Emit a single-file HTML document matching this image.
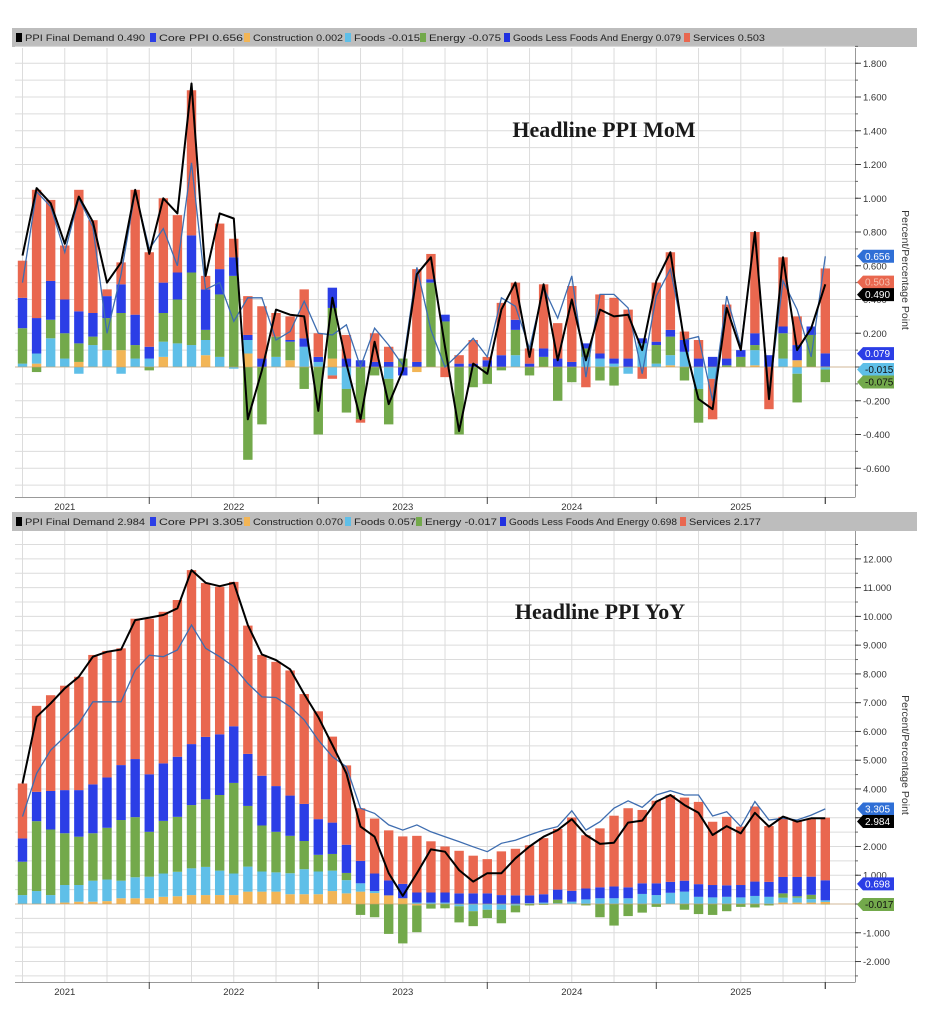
<!DOCTYPE html>
<html><head><meta charset="utf-8">
<style>
html,body{margin:0;padding:0;background:#fff;}
svg{display:block;font-family:"Liberation Sans",sans-serif;}
</style></head>
<body>
<svg id="c" width="934" height="1030" viewBox="0 0 934 1030" xmlns="http://www.w3.org/2000/svg"></svg>
<script>
// ---------- MoM data ----------
const momPPI=[.66,1.06,.97,.73,1.01,.86,.50,.62,1.05,.67,1.00,.91,1.68,.54,.91,.88,-.31,-.02,.34,.31,.30,-.26,.41,.02,-.31,.15,-.22,-.02,.55,.65,.12,-.38,.02,-.04,.34,.50,.06,.49,.04,.40,.04,.34,.30,.31,.10,.51,.68,.14,-.19,-.25,.35,.10,.80,-.19,.65,.10,.23,.49];
const momCore=[.50,1.04,.95,.68,1.0,.83,.20,.55,1.04,.70,.82,.60,1.21,.46,.50,.27,.41,.41,.16,.21,.39,.20,.19,.25,0,.23,.13,.01,.59,.22,0,.08,.17,.06,.41,.36,.11,.47,.29,.54,-.06,.43,.43,.35,-.04,.42,.58,.16,.18,-.20,.42,.12,.79,-.16,.51,.34,.06,.656];
const momConstr=[0,.02,0,0,.03,0,0,.10,0,0,.06,0,0,.07,0,0,.08,0,0,.04,0,0,.05,0,0,0,0,0,-.03,0,0,0,0,0,0,0,0,0,0,0,0,0,0,0,0,0,.01,0,0,0,0,0,.01,0,0,.04,0,.002];
const momFoods=[.02,.06,.17,.05,-.04,.13,.10,-.04,.05,.05,.09,.14,.13,.09,.06,-.01,.08,0,.06,0,.12,.03,-.05,-.13,0,0,-.07,0,0,0,0,0,0,0,0,.07,0,0,0,0,.06,.05,.02,-.04,.14,.02,.06,.09,-.13,-.07,0,0,.09,0,.05,-.04,0,-.015];
const momEnergy=[.21,-.03,.11,.15,.11,.05,.19,.22,.08,-.02,.17,.26,.43,.06,.37,.54,-.55,-.34,.12,.11,-.13,-.40,.30,-.14,-.31,-.05,-.27,.05,0,.50,.27,-.40,-.12,-.10,-.02,.15,-.05,.06,-.20,-.09,.05,-.08,-.11,0,0,.11,.11,-.08,-.20,0,.01,.06,.03,0,.15,-.17,.19,-.075];
const momGoods=[.18,.21,.23,.20,.19,.14,.13,.17,.18,.07,.18,.16,.22,.24,.15,.11,.03,.05,0,.01,.05,.03,.12,.05,.04,.03,.03,-.05,.03,.02,.04,.02,.02,.04,.07,.06,.02,.05,.05,.03,.03,.03,.03,.05,.03,.02,.04,.07,.05,.06,.04,.04,.07,.07,.04,.09,.05,.079];
const momServices=[.22,.76,.48,.32,.72,.55,.04,.13,.74,.56,.50,.34,.86,.08,.27,.11,.23,.31,.14,.14,.29,.14,-.02,.14,-.02,.17,.09,0,.55,.15,-.06,.05,.14,.02,.31,.22,.09,.38,.21,.45,-.12,.35,.36,.29,-.07,.35,.46,.05,.11,-.24,.32,0,.60,-.25,.41,.17,0,.503];
const momTicks=[1.8,1.6,1.4,1.2,1.0,0.8,0.6,0.4,0.2,0,-0.2,-0.4,-0.6];
// ---------- YoY data ----------
const yoyPPI=[4.19,6.51,6.98,7.50,7.90,8.60,8.77,8.85,9.87,9.96,10.05,10.28,11.61,11.17,11.05,11.17,9.70,8.68,8.48,8.16,7.30,6.50,5.53,4.54,2.69,2.34,1.07,.28,1.07,1.90,1.82,1.18,.78,1.07,1.07,1.59,2.00,2.34,2.57,2.95,2.40,2.09,2.13,2.83,2.90,3.56,3.79,3.44,3.17,2.40,2.71,2.46,3.17,2.69,3.04,2.86,2.98,2.984];
const yoyCore=[3.04,4.54,5.35,5.82,6.28,7.03,7.03,7.03,8.13,8.65,8.60,8.83,9.70,8.89,8.60,8.25,7.67,7.20,7.18,6.86,6.40,5.70,5.12,4.77,3.33,3.15,2.75,2.57,2.75,2.51,2.34,2.17,1.99,1.82,2.11,2.22,2.40,2.57,2.69,3.24,2.57,2.86,3.33,3.59,3.36,3.79,3.94,3.79,3.79,3.06,3.21,2.69,3.56,2.92,2.98,2.92,3.09,3.305];
const yoyConstr=[0,0,0,.05,.08,.08,.10,.20,.20,.20,.25,.27,.31,.31,.31,.31,.43,.43,.43,.34,.34,.34,.45,.37,.43,.38,.30,.20,-.05,0,0,0,0,0,0,0,0,0,0,0,0,0,0,0,0,0,0,0,0,0,0,0,0,0,.05,.05,.05,.07];
const yoyFoods=[.31,.45,.31,.61,.58,.73,.75,.61,.73,.75,.81,.85,.93,.98,.85,.75,.87,.70,.67,.73,.87,.79,.71,.46,.29,.07,0,0,.05,.05,.05,-.08,-.25,-.20,-.20,-.05,.03,.05,.03,.08,.16,.20,.20,.20,.35,.31,.39,.43,.25,.23,.25,.23,.28,.25,.17,.17,.12,.057];
const yoyEnergy=[1.16,2.43,2.28,1.80,1.68,1.65,1.80,2.11,2.09,1.56,1.83,1.91,2.20,2.35,2.63,3.15,2.11,1.60,1.41,1.30,.98,.58,.58,.25,-.38,-.46,-1.04,-1.37,-.93,-.16,-.15,-.56,-.52,-.29,-.47,-.24,-.05,-.03,.12,0,-.05,-.46,-.75,-.42,-.30,-.10,0,-.20,-.35,-.38,-.25,-.10,-.12,-.05,.15,.05,.15,-.017];
const yoyGoods=[.81,1.02,1.34,1.50,1.62,1.70,1.75,1.91,2.02,2.00,2.00,2.09,2.12,2.17,2.11,1.97,1.81,1.73,1.59,1.40,1.29,1.24,1.09,.98,.78,.61,.52,.50,.35,.35,.35,.37,.37,.37,.31,.30,.27,.29,.35,.38,.38,.38,.41,.38,.37,.41,.38,.38,.44,.43,.40,.43,.50,.52,.57,.67,.63,.698];
const yoyServices=[1.91,2.99,3.33,3.63,3.94,4.50,4.40,4.06,4.88,5.41,5.27,5.45,6.05,5.35,5.13,5.02,4.46,4.20,4.32,4.35,3.82,3.75,2.99,2.76,1.83,1.91,1.74,1.65,1.97,1.78,1.60,1.48,1.31,1.19,1.52,1.62,1.74,1.95,2.11,2.55,1.85,2.05,2.46,2.75,2.55,2.87,3.01,2.89,2.86,2.20,2.38,2.03,2.61,1.94,2.09,1.94,2.00,2.177];
const yoyTicks=[12,11,10,9,8,7,6,5,4,3,2,1,0,-1,-2];
const yearLabels=["2021","2022","2023","2024","2025"];

const NS="http://www.w3.org/2000/svg";
const svg=document.getElementById('c');
function mk(tag,attrs,parent){const e=document.createElementNS(NS,tag);for(const k in attrs)e.setAttribute(k,attrs[k]);(parent||svg).appendChild(e);return e;}
const COL={c:"#f2b556",f:"#5fbfe8",e:"#73a94b",g:"#2b3ee6",s:"#e9674f",ppi:"#000",core:"#3e6db0"};
const N=momPPI.length;
const x0=22.5, step=(825.3-22.5)/57, bw=9.4;
const xOf=i=>x0+i*step;

function chart(o){
  const g=mk('g',{});
  
  
  const y=v=>o.zeroY-v*o.unit;
  // legend bar
  const lg=mk('g',{},g);
  
  
  mk('rect',{x:12,y:o.legY,width:905,height:19,fill:"#bdbdbd"},lg);
  o.legend.forEach(it=>{
    const sq=mk('rect',{x:it[0],y:o.legY+5,width:6,height:9,fill:it[1]},lg);
    
    
    const t=mk('text',{x:it[0]+9,y:o.legY+13,'font-size':9,fill:"#222",textLength:it[3],lengthAdjust:"spacingAndGlyphs"},lg);
    t.textContent=it[2];
    
    
  });
  // gridlines
  const gg=mk('g',{stroke:"#dcdcdc","stroke-width":1},g);
  
  
  for(let v=o.gmin;v<=o.gmax+1e-9;v+=o.gstep){const yy=y(v);mk('line',{x1:15,x2:855,y1:yy,y2:yy},gg);}
  for(let i=0;i<N;i+=3){mk('line',{x1:xOf(i),x2:xOf(i),y1:o.top,y2:o.bot},gg);}
  // axes
  mk('line',{x1:855.5,x2:855.5,y1:o.top,y2:o.bot,stroke:"#999"},g);
  mk('line',{x1:15,x2:855.5,y1:o.bot+.5,y2:o.bot+.5,stroke:"#999"},g);
  // bars
  const bg=mk('g',{},g);
  
  
  const keys=['c','f','e','g','s'];
  for(let i=0;i<N;i++){
    let pos=0,neg=0;
    keys.forEach(k=>{
      const v=o.d[k][i]; if(!v) return;
      let a,b;
      if(v>0){a=pos;b=pos+v;pos=b;}else{a=neg;b=neg+v;neg=b;}
      const r=mk('rect',{x:xOf(i)-bw/2,y:Math.min(y(a),y(b)),width:bw,height:Math.abs(y(a)-y(b)),fill:COL[k]},bg);
      
      
    });
  }
  mk('line',{x1:15,x2:855,y1:y(0),y2:y(0),stroke:"#c9a06a","stroke-width":1,opacity:.6},g);
  // lines
  const ptsC=o.d.core.map((v,i)=>xOf(i).toFixed(1)+','+y(v).toFixed(1)).join(' ');
  const lc=mk('polyline',{points:ptsC,fill:"none",stroke:COL.core,"stroke-width":1.3},g);
  
  
  const ptsP=o.d.ppi.map((v,i)=>xOf(i).toFixed(1)+','+y(v).toFixed(1)).join(' ');
  const lp=mk('polyline',{points:ptsP,fill:"none",stroke:"#000","stroke-width":2,"stroke-linejoin":"round"},g);
  
  
  // y ticks
  const ag=mk('g',{},g);
  
  
  for(let v=o.gmin;v<=o.gmax+1e-9;v+=o.gstep){mk('line',{x1:855,x2:858,y1:y(v),y2:y(v),stroke:"#666"},ag);}
  o.ticks.forEach(v=>{
    mk('line',{x1:855,x2:861,y1:y(v),y2:y(v),stroke:"#444"},ag);
    const t=mk('text',{x:863,y:y(v)+3.5,'font-size':9.5,fill:"#333"},ag);
    t.textContent=v.toFixed(3);
    
    
  });
  const yt=mk('text',{transform:`translate(902,${o.titleY}) rotate(90)`,'font-size':10.5,fill:"#333","text-anchor":"middle"},g);
  yt.textContent="Percent/Percentage Point";
  
  
  // x axis
  yearLabels.forEach((lab,k)=>{
    const xt=xOf(9+12*k);
    mk('line',{x1:xt,x2:xt,y1:o.bot,y2:o.bot+7,stroke:"#444"},g);
    const t=mk('text',{x:xt-84.5,y:o.bot+13,'font-size':9.5,fill:"#333","text-anchor":"middle"},g);
    t.textContent=lab;
    
    
  });
  mk('line',{x1:xOf(57),x2:xOf(57),y1:o.bot,y2:o.bot+7,stroke:"#444"},g);
  // title annotation
  const at=mk('text',{x:o.annX,y:o.annY,'font-size':22,'font-weight':'bold','font-family':'"Liberation Serif",serif',fill:"#1a1a1a","text-anchor":"middle"},g);
  at.textContent=o.ann;
  
  
  // value tags
  const tags=o.tags.map(t=>({v:t[0],c:t[1],tc:t[2],yy:y(t[0])})).sort((a,b)=>a.yy-b.yy);
  for(let k=1;k<tags.length;k++){if(tags[k].yy-tags[k-1].yy<12.5)tags[k].yy=tags[k-1].yy+12.5;}
  tags.forEach(t=>{
    const yy=t.yy;
    const p=mk('polygon',{points:`857,${yy} 863,${yy-6.5} 894,${yy-6.5} 894,${yy+6.5} 863,${yy+6.5}`,fill:t.c},g);
    
    
    const tx=mk('text',{x:865,y:yy+3.5,'font-size':10,fill:t.tc},g);
    tx.textContent=t.v.toFixed(3);
    
    
  });
}

chart({name:'mom-chart',legY:28,top:48,bot:497,zeroY:367,unit:168.75,gmin:-0.7,gmax:1.9,gstep:0.1,ticks:momTicks,titleY:270,
  annX:604,annY:137,ann:"Headline PPI MoM",
  d:{c:momConstr,f:momFoods,e:momEnergy,g:momGoods,s:momServices,ppi:momPPI,core:momCore},
  legend:[[16,"#000","PPI Final Demand 0.490",120],[150,COL.g,"Core PPI 0.656",84],[244,COL.c,"Construction 0.002",90],[345,COL.f,"Foods -0.015",66],[420,COL.e,"Energy -0.075",72],[504,"#2030e0","Goods Less Foods And Energy 0.079",168],[684,COL.s,"Services 0.503",72]],
  tags:[[momCore[N-1],"#2f6fd6","#fff"],[momServices[N-1],COL.s,"#f6c0b0"],[momPPI[N-1],"#000","#fff"],[momGoods[N-1],"#2b3ee6","#fff"],[momFoods[N-1],COL.f,"#111"],[momEnergy[N-1],COL.e,"#111"]]
});
chart({name:'yoy-chart',legY:512,top:531,bot:982,zeroY:904,unit:28.76,gmin:-2.5,gmax:12.5,gstep:0.5,ticks:yoyTicks,titleY:755,
  annX:600,annY:619,ann:"Headline PPI YoY",
  d:{c:yoyConstr,f:yoyFoods,e:yoyEnergy,g:yoyGoods,s:yoyServices,ppi:yoyPPI,core:yoyCore},
  legend:[[16,"#000","PPI Final Demand 2.984",120],[150,COL.g,"Core PPI 3.305",84],[244,COL.c,"Construction 0.070",90],[345,COL.f,"Foods 0.057",62],[416,COL.e,"Energy -0.017",72],[500,"#2030e0","Goods Less Foods And Energy 0.698",168],[680,COL.s,"Services 2.177",72]],
  tags:[[yoyCore[N-1],"#2f6fd6","#fff"],[yoyPPI[N-1],"#000","#fff"],[yoyGoods[N-1],"#2b3ee6","#fff"],[yoyEnergy[N-1],COL.e,"#111"]]
});
</script>
</body></html>
